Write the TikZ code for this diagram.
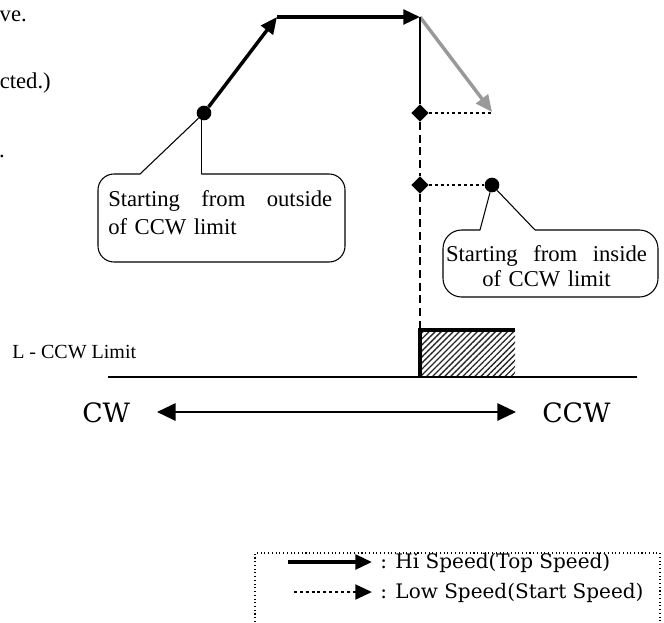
\documentclass[tikz,border=0pt]{standalone}
\usepackage{fontspec}
\setmainfont{Liberation Serif}
\newfontfamily\legendfont{DejaVu Serif}
\usetikzlibrary{arrows.meta,patterns.meta,shapes.geometric}

\tikzset{
  hi/.style={line width=2.6pt,-{Triangle[length=12.5pt,width=11pt]}},
  lo/.style={line width=2.2pt,dash pattern=on 2.2pt off 2.2pt},
  dot/.style={circle,fill,inner sep=0pt,minimum size=11pt},
  pinpt/.style={diamond,fill,inner sep=0pt,minimum size=13pt},
  callout/.style={line width=0.8pt},
  note/.style={font=\fontsize{17}{21}\selectfont,inner sep=0pt},
  legtext/.style={font=\legendfont\fontsize{15}{18}\selectfont,inner sep=0pt},
  dirtext/.style={font=\legendfont\fontsize{20}{24}\selectfont,inner sep=0pt},
}

\begin{document}
\begin{tikzpicture}[x=0.75pt,y=-0.75pt]
\useasboundingbox (0,0) rectangle (664,622);

% text cut off at the left edge
\node[note,anchor=base east] (t1) at (27,21) {ve.};
\node[note,anchor=base east] (t2) at (51,88) {cted.)};
\node[note,anchor=base east] (t3) at (5,157) {.};

% speed path
\node[dot] (A) at (204,113) {};
\coordinate (up) at (277,17);
\coordinate (turn) at (420,17);
\node[pinpt] (P1) at (420,113) {};
\node[pinpt] (P2) at (420,185) {};
\node[dot] (B) at (492,185) {};
\coordinate (gr) at (492,112);
\coordinate (lo1) at (492,113);
\coordinate (lim) at (420,330);

\draw[hi] (A) -- (up);
\draw[hi] (up) -- (turn);
\draw[hi,black!40] (turn) -- (gr);
\draw[line width=2pt] (turn) -- (P1);
\draw[lo] (P1) -- (lo1);
\draw[lo] (P2) -- (B);
\draw[line width=1.2pt,dash pattern=on 6pt off 3.5pt] (P1) -- (P2) (P2) -- (lim);

% limit sensor
\fill[pattern={Lines[angle=45,distance=3.2pt,line width=1pt]},pattern color=black!85]
  (lim) rectangle (515,377);
\draw[line width=2.4pt] (420,377) -- (lim) -- (515,330);
\draw[line width=1.5pt] (108,377) -- (637,377);
\node[anchor=base west,inner sep=0pt,font=\fontsize{15}{17}\selectfont] (lbl) at (12,358) {L - CCW Limit};

% direction
\node[dirtext,anchor=base west] (cw) at (82,422) {CW};
\node[dirtext,anchor=base west] (ccw) at (542,422) {CCW};
\coordinate (cwa) at (157,412);
\coordinate (ccwa) at (516,412);
\draw[line width=1.5pt,{Triangle[length=14pt,width=13pt]}-{Triangle[length=14pt,width=13pt]}] (cwa) -- (ccwa);

% callout: outside
\coordinate (ol) at (140,174);
\draw[callout] (ol) -- (A);
\draw[callout] (A.250) -- (A.250 |- ol);
\draw[callout,rounded corners=12pt] (A.250 |- ol) -- (345,174) -- (345,262) -- (98,262) -- (98,174) -- (ol);
\node[note,text width=168pt,align=left,anchor=north west] (outtxt) at (108,190)
  {Starting\hfill from\hfill outside\\of CCW limit};

% callout: inside
\coordinate (il) at (480,230);
\coordinate (ir) at (535,230);
\draw[callout] (il) -- (B) (B) -- (ir);
\draw[callout,rounded corners=14pt] (ir) -- (658,230) -- (658,297) -- (443,297) -- (443,230) -- (il);
\node[note,font=\fontsize{17}{19}\selectfont,text width=150.75pt,align=center,anchor=north] (intxt) at (546.5,245)
  {Starting\hfill from\hfill inside\\of CCW limit};

% legend
\draw[line width=0.8pt,dotted] (255,622) -- (255,553) -- (660,553) -- (660,622);
\coordinate (k1a) at (288,562);
\coordinate (k1b) at (372,562);
\coordinate (k2a) at (294,592);
\coordinate (k2b) at (372,592);
\draw[hi] (k1a) -- (k1b);
\draw[lo,-{Triangle[length=12.5pt,width=11pt]}] (k2a) -- (k2b);
\node[legtext,anchor=base west] (k1) at (380,568) {: Hi Speed(Top Speed)};
\node[legtext,anchor=base west] (k2) at (380,598) {: Low Speed(Start Speed)};
\end{tikzpicture}
\end{document}
